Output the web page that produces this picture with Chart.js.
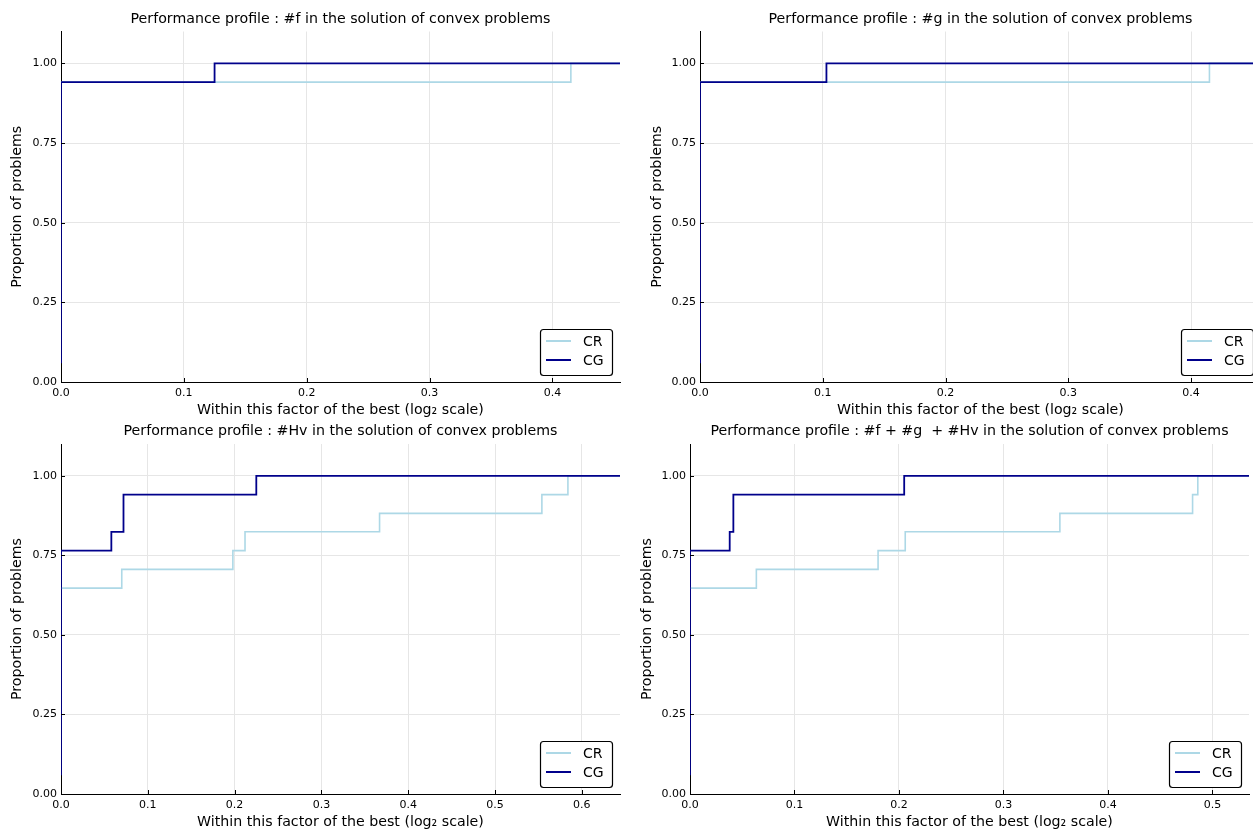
<!DOCTYPE html>
<html>
<head>
<meta charset="utf-8">
<script src="https://cdn.jsdelivr.net/npm/chart.js@4.4.1/dist/chart.umd.min.js"></script>
<style>
	html, body { margin: 0; padding: 0; background: #fff; overflow: hidden; width: 1253px; height: 832px; }
	canvas { position: absolute; }
</style>
</head>
<body>
<canvas id="c1"></canvas>
<canvas id="c2"></canvas>
<canvas id="c3"></canvas>
<canvas id="c4"></canvas>
<script>
// series labels
const seriesNames = ['CR', 'CG'];

// #f
const fCrX = [0, 0.415, 0.455];
const fCrY = [0.941, 1.0, 1.0];
const fCgX = [0, 0, 0.125, 0.455];
const fCgY = [0.059, 0.941, 1.0, 1.0];

// #g
const gCrX = [0, 0.415, 0.457];
const gCrY = [0.941, 1.0, 1.0];
const gCgX = [0, 0, 0.103, 0.457];
const gCgY = [0.059, 0.941, 1.0, 1.0];

// #Hv
const hvCrX = [0, 0.070, 0.198, 0.212, 0.367, 0.554, 0.584, 0.644];
const hvCrY = [0.647, 0.706, 0.765, 0.824, 0.882, 0.941, 1.0, 1.0];
const hvCgX = [0, 0, 0.058, 0.072, 0.225, 0.644];
const hvCgY = [0.059, 0.765, 0.824, 0.941, 1.0, 1.0];

// #f + #g + #Hv
const sumCrX = [0, 0.0635, 0.180, 0.206, 0.354, 0.481, 0.486, 0.535];
const sumCrY = [0.647, 0.706, 0.765, 0.824, 0.882, 0.941, 1.0, 1.0];
const sumCgX = [0, 0, 0.038, 0.0415, 0.205, 0.535];
const sumCgY = [0.059, 0.765, 0.824, 0.941, 1.0, 1.0];

const titles = [
	'Performance profile : #f in the solution of convex problems',
	'Performance profile : #g in the solution of convex problems',
	'Performance profile : #Hv in the solution of convex problems',
	'Performance profile : #f + #g  + #Hv in the solution of convex problems'
];
const xMaxes = [0.455, 0.457, 0.644, 0.535];
const xLabel = 'Within this factor of the best (log\u2082 scale)';
const yLabel = 'Proportion of problems';

const FONT = '"DejaVu Sans", sans-serif';
const colors = { CR: '#add8e6', CG: '#00008b' };

const toPoints = (xs, ys) => xs.map((x, i) => ({ x: x, y: ys[i] }));

// title, legend box and inward tick marks, drawn like the original plot
const decorPlugin = {
	id: 'decor',
	afterDraw(chart) {
		const ctx = chart.ctx;
		const area = chart.chartArea;
		const opts = chart.options.plugins.decor;
		ctx.save();

		// tick marks pointing into the plot
		ctx.strokeStyle = '#000';
		ctx.lineWidth = 1;
		const xs = chart.scales.x, ys = chart.scales.y;
		xs.ticks.forEach((t, i) => {
			const px = Math.round(xs.getPixelForTick(i)) + 0.5;
			ctx.beginPath(); ctx.moveTo(px, area.bottom); ctx.lineTo(px, area.bottom - 4); ctx.stroke();
		});
		ys.ticks.forEach((t, i) => {
			const py = Math.round(ys.getPixelForTick(i)) + 0.5;
			ctx.beginPath(); ctx.moveTo(area.left, py); ctx.lineTo(area.left + 4, py); ctx.stroke();
		});

		// title
		ctx.fillStyle = '#000';
		ctx.font = '14.2px ' + FONT;
		ctx.textAlign = 'center';
		ctx.textBaseline = 'middle';
		ctx.fillText(opts.title, (area.left + area.right) / 2, area.top - 12.5);

		// legend
		const w = 72, h = 46;
		const bx = area.right - 8 - w, by = area.bottom - 7 - h;
		ctx.beginPath();
		ctx.roundRect(bx + 0.5, by + 0.5, w, h, 3);
		ctx.fillStyle = '#fff';
		ctx.fill();
		ctx.strokeStyle = '#000';
		ctx.lineWidth = 1.2;
		ctx.stroke();
		ctx.font = '14px ' + FONT;
		ctx.textAlign = 'left';
		seriesNames.forEach((name, i) => {
			const ry = by + 12 + i * 19;
			ctx.strokeStyle = colors[name];
			ctx.lineWidth = 2;
			ctx.beginPath(); ctx.moveTo(bx + 6, ry); ctx.lineTo(bx + 31, ry); ctx.stroke();
			ctx.fillStyle = '#000';
			ctx.fillText(name, bx + 43, ry + 1);
		});
		ctx.restore();
	}
};

const panels = [
	{ id: 'c1', left: 0,   top: 0,   width: 626, height: 420, yW: 61, padTop: 31.5, padRight: 6, yTitlePad: 8.6,
	  cr: toPoints(fCrX, fCrY), cg: toPoints(fCgX, fCgY) },
	{ id: 'c2', left: 630, top: 0,   width: 631, height: 420, yW: 70, padTop: 31.5, padRight: 0, yTitlePad: 18.6,
	  cr: toPoints(gCrX, gCrY), cg: toPoints(gCgX, gCgY) },
	{ id: 'c3', left: 0,   top: 412, width: 626, height: 420, yW: 61, padTop: 32, padRight: 6, yTitlePad: 8.6,
	  cr: toPoints(hvCrX, hvCrY), cg: toPoints(hvCgX, hvCgY) },
	{ id: 'c4', left: 630, top: 412, width: 623, height: 420, yW: 60, padTop: 32, padRight: 4, yTitlePad: 8.6,
	  cr: toPoints(sumCrX, sumCrY), cg: toPoints(sumCgX, sumCgY) }
];

panels.forEach((p, k) => {
	const canvas = document.getElementById(p.id);
	canvas.width = p.width;
	canvas.height = p.height;
	canvas.style.left = p.left + 'px';
	canvas.style.top = p.top + 'px';

	new Chart(canvas.getContext('2d'), {
		type: 'line',
		data: {
			datasets: [{
				label: seriesNames[0],
				data: p.cr,
				stepped: 'before',
				borderColor: colors.CR,
				borderWidth: 1.6,
				pointRadius: 0,
				fill: false,
				order: 2
			}, {
				label: seriesNames[1],
				data: p.cg,
				stepped: 'before',
				borderColor: colors.CG,
				borderWidth: 1.8,
				pointRadius: 0,
				fill: false,
				order: 1
			}]
		},
		options: {
			responsive: false,
			animation: false,
			layout: { padding: { top: p.padTop, right: p.padRight, left: 0, bottom: 0 } },
			scales: {
				x: {
					type: 'linear',
					min: 0,
					max: xMaxes[k],
					afterFit: (s) => { s.height = 38; },
					grid: { color: '#e6e6e6', drawTicks: false },
					border: { color: '#000', width: 1 },
					ticks: {
						stepSize: 0.1,
						includeBounds: false,
						padding: 5,
						maxRotation: 0,
						color: '#000',
						font: { family: FONT, size: 11 },
						callback: (v) => v.toFixed(1)
					},
					title: {
						display: true,
						text: xLabel,
						color: '#000',
						font: { family: FONT, size: 14.2 },
						padding: { top: 4, bottom: 1.6 }
					}
				},
				y: {
					min: 0,
					max: 1.1,
					afterFit: (s) => { s.width = p.yW; },
					grid: { color: '#e6e6e6', drawTicks: false },
					border: { color: '#000', width: 1 },
					ticks: {
						stepSize: 0.25,
						includeBounds: false,
						padding: 4,
						color: '#000',
						font: { family: FONT, size: 11 },
						callback: (v) => v.toFixed(2)
					},
					title: {
						display: true,
						text: yLabel,
						color: '#000',
						font: { family: FONT, size: 14.2 },
						padding: { top: p.yTitlePad, bottom: 0 }
					}
				}
			},
			plugins: {
				legend: { display: false },
				title: { display: false },
				tooltip: { enabled: false },
				decor: { title: titles[k] }
			}
		},
		plugins: [decorPlugin]
	});
});
</script>
</body>
</html>
